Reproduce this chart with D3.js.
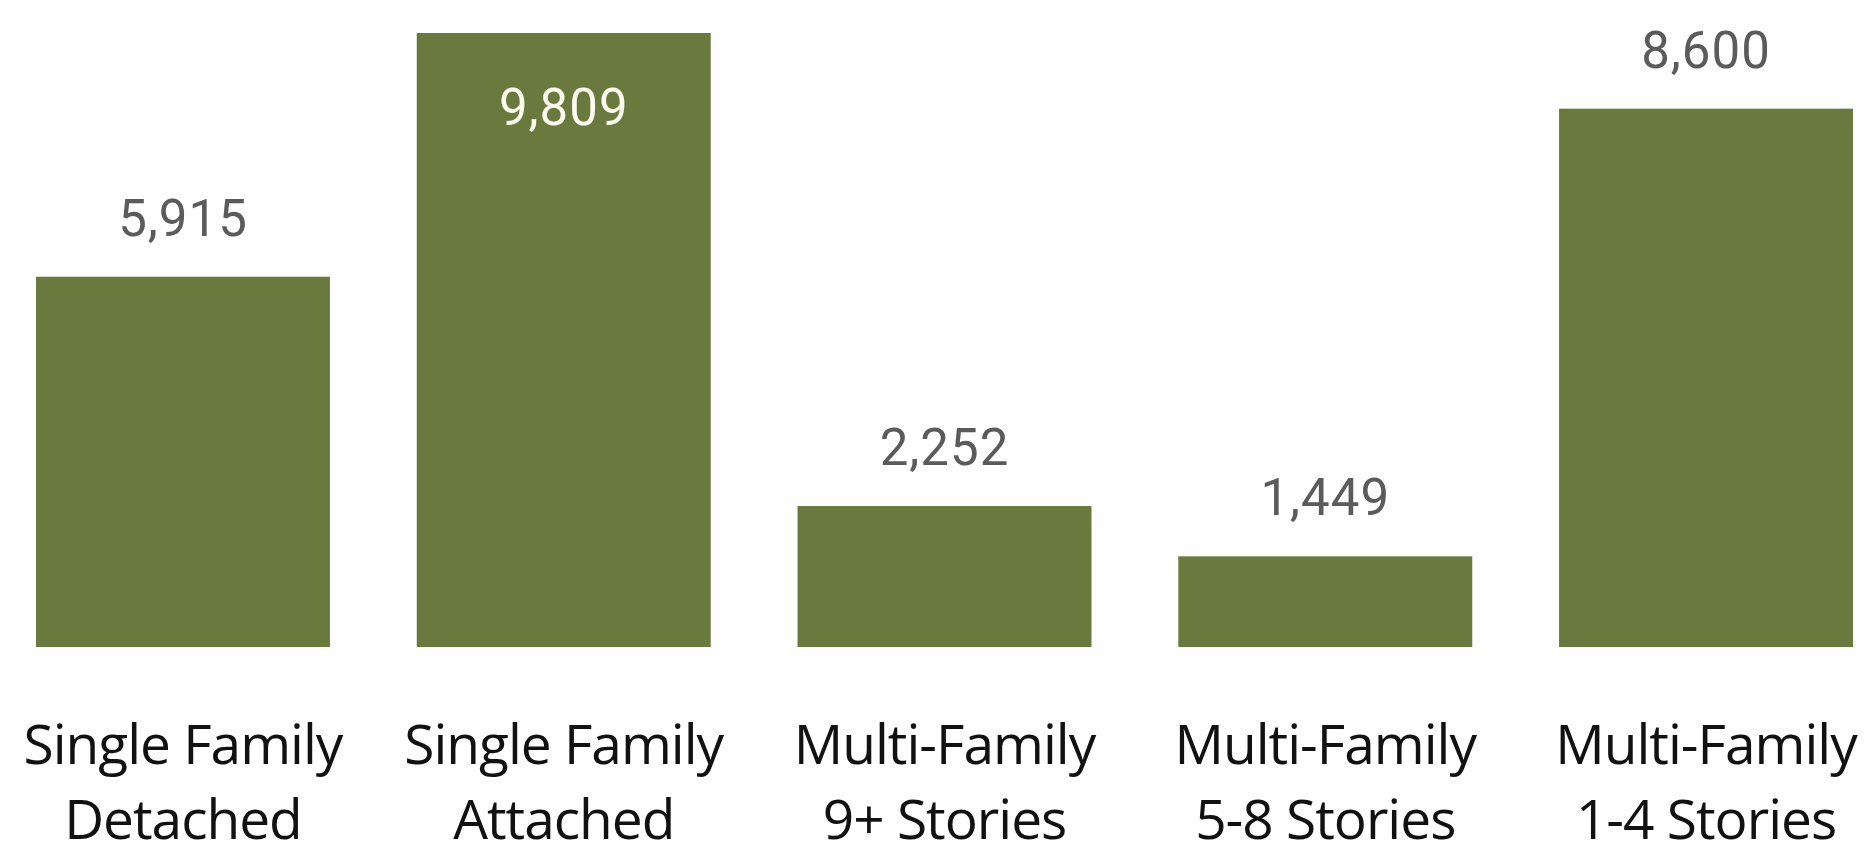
<!DOCTYPE html>
<html>
<head>
<meta charset="utf-8">
<script src="https://cdn.jsdelivr.net/npm/d3@7"></script>
<style>
  html, body { margin: 0; padding: 0; background: #fefefe; }
  svg { display: block; }
</style>
</head>
<body>
<svg id="chart"></svg>
<script>
// data
const categories = [
  ['Single Family', 'Detached'],
  ['Single Family', 'Attached'],
  ['Multi-Family', '9+ Stories'],
  ['Multi-Family', '5-8 Stories'],
  ['Multi-Family', '1-4 Stories']
];
const values = [5915, 9809, 2252, 1449, 8600];

const width = 1875;
const height = 842;
const barColor = '#6a7a3e';
const labelColor = '#5b5b5b';

const svg = d3.select('#chart')
  .attr('width', width)
  .attr('height', height);

const keys = categories.map(d => d.join(' '));

// x band: bars from 36 to 1853
const xScale = d3.scaleBand()
  .domain(keys)
  .range([36, 1853])
  .paddingInner(0.228)
  .paddingOuter(0);

// y: baseline at 647, tallest bar top at 33
const yScale = d3.scaleLinear()
  .domain([0, d3.max(values)])
  .range([647, 33]);

const fmt = d3.format(',');

const data = keys.map((k, i) => ({ key: k, lines: categories[i], value: values[i] }));

// bars
svg.append('g')
  .selectAll('rect')
  .data(data)
  .join('rect')
  .attr('x', d => xScale(d.key))
  .attr('y', d => yScale(d.value))
  .attr('width', xScale.bandwidth())
  .attr('height', d => yScale(0) - yScale(d.value))
  .attr('fill', barColor);

// value labels, inside the bar when there is no room on top
svg.append('g')
  .selectAll('text')
  .data(data)
  .join('text')
  .attr('x', d => xScale(d.key) + xScale.bandwidth() / 2)
  .attr('y', d => {
    const top = yScale(d.value);
    return top - 41 < 40 ? top + 92 : top - 41;
  })
  .attr('text-anchor', 'middle')
  .attr('font-family', 'Roboto, sans-serif')
  .attr('font-size', 51)
  .attr('letter-spacing', 1)
  .attr('fill', d => yScale(d.value) - 41 < 40 ? '#fbfbf0' : labelColor)
  .text(d => fmt(d.value));

// category labels (two lines)
const cat = svg.append('g')
  .selectAll('text')
  .data(data)
  .join('text')
  .attr('text-anchor', 'middle')
  .attr('font-family', '"Open Sans", sans-serif')
  .attr('font-size', 55)
  .attr('letter-spacing', -1)
  .attr('fill', '#111');

cat.selectAll('tspan')
  .data(d => d.lines.map(l => ({ key: d.key, line: l })))
  .join('tspan')
  .attr('x', d => xScale(d.key) + xScale.bandwidth() / 2)
  .attr('y', (d, i) => 764 + i * 75)
  .text(d => d.line);
</script>
</body>
</html>
